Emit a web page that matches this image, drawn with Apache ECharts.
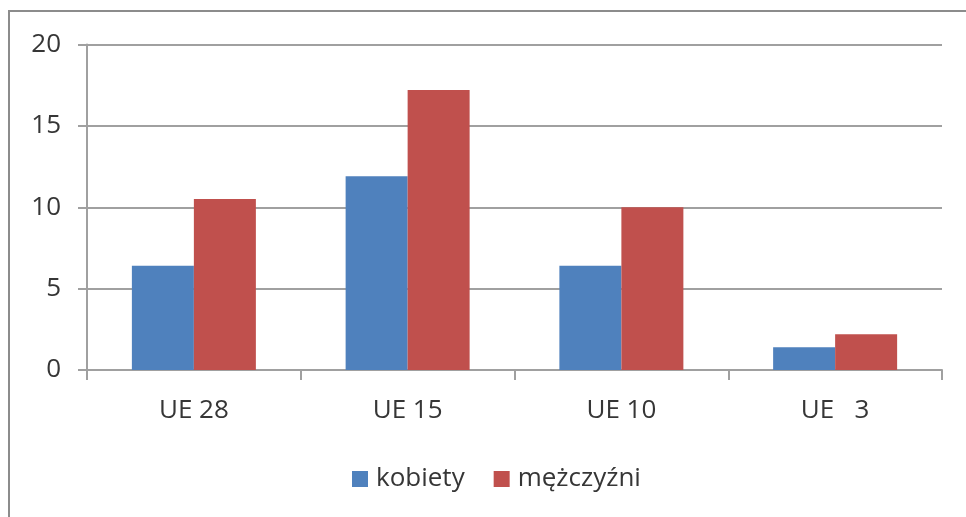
<!DOCTYPE html>
<html>
<head>
<meta charset="utf-8">
<script src="https://cdn.jsdelivr.net/npm/echarts@6/dist/echarts.min.js"></script>
<style>
html,body{margin:0;padding:0;background:#fff;}
#c{width:966px;height:517px;}
</style>
</head>
<body>
<div id="c"></div>
<script>
var categories = ['UE 28', 'UE 15', 'UE 10', 'UE   3'];
var kobiety = [6.4, 11.9, 6.4, 1.4];
var mezczyzni = [10.5, 17.2, 10.0, 2.2];
var seriesNames = ['kobiety', 'mężczyźni'];
var yTicks = {min: 0, max: 20, interval: 5};

var FONT = 'Open Sans';
var TXT = '#363636';
var AX = '#a0a0a0';

var chart = echarts.init(document.getElementById('c'), null, {renderer: 'canvas'});
chart.setOption({
  backgroundColor: '#ffffff',
  animation: false,
  graphic: [{
    type: 'rect',
    shape: {x: 9, y: 11, width: 1000, height: 1000},
    style: {fill: 'none', stroke: '#8c8c8c', lineWidth: 2},
    z: 100
  }],
  grid: {left: 87, right: 24, top: 44.5, bottom: 147, containLabel: false},
  legend: {
    data: seriesNames,
    left: 347,
    top: 461,
    icon: 'rect',
    itemWidth: 16,
    itemHeight: 16,
    itemGap: 29,
    textStyle: {fontFamily: FONT, fontSize: 26, color: TXT, padding: [0, 0, 0, 3]}
  },
  xAxis: {
    type: 'category',
    data: categories,
    axisLine: {show: true, lineStyle: {color: AX, width: 2}},
    axisTick: {show: true, alignWithLabel: false, length: 10, lineStyle: {color: AX, width: 2}},
    axisLabel: {fontFamily: FONT, fontSize: 26, color: TXT, margin: 28}
  },
  yAxis: {
    type: 'value',
    min: yTicks.min, max: yTicks.max, interval: yTicks.interval,
    axisLine: {show: true, lineStyle: {color: AX, width: 2}},
    axisTick: {show: true, length: 9, lineStyle: {color: AX, width: 2}},
    splitLine: {show: true, lineStyle: {color: AX, width: 2}},
    axisLabel: {fontFamily: FONT, fontSize: 26, color: TXT, margin: 26}
  },
  series: [
    {name: seriesNames[0], type: 'bar', data: kobiety, barWidth: 62, barGap: '0%',
     itemStyle: {color: '#4F81BD'}},
    {name: seriesNames[1], type: 'bar', data: mezczyzni, barWidth: 62, barGap: '0%',
     itemStyle: {color: '#C0504D'}}
  ]
});
</script>
</body>
</html>
